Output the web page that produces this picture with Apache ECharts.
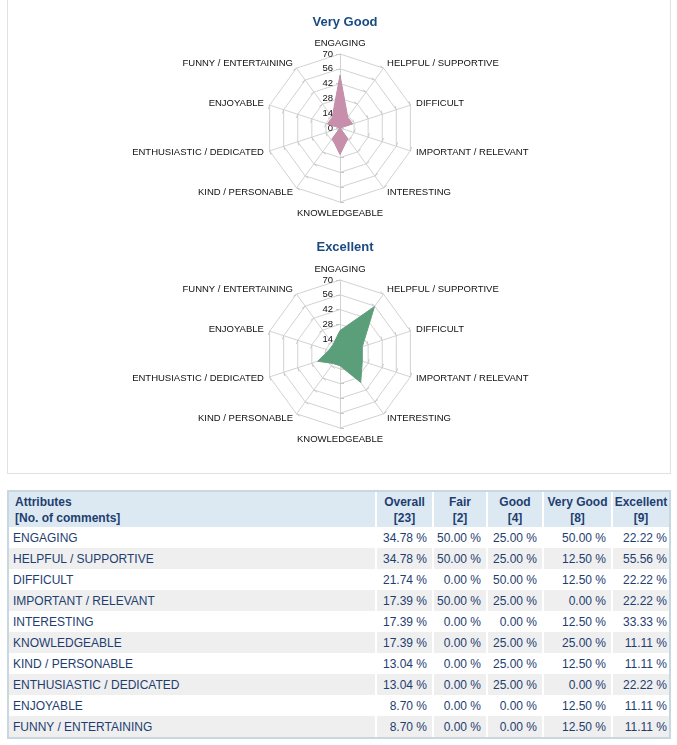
<!DOCTYPE html>
<html>
<head>
<meta charset="utf-8">
<script src="https://cdn.jsdelivr.net/npm/echarts@6/dist/echarts.min.js"></script>
<style>
html,body{margin:0;padding:0;background:#fff;width:677px;height:745px;overflow:hidden;font-family:"Liberation Sans",Arial,sans-serif;}
#panel{position:absolute;left:7px;top:-2px;width:664px;height:476px;border:1px solid #e2e2e2;box-sizing:border-box;}
#chart{position:absolute;left:0;top:0;width:677px;height:476px;}
#tblwrap{position:absolute;left:7px;top:490px;width:664px;border:2px solid #c9d7e1;box-sizing:border-box;}
table{border-collapse:separate;border-spacing:0;width:660px;table-layout:fixed;color:#1e3e70;font-size:12px;font-family:"Liberation Sans",Arial,sans-serif;}
th{background:#dde9f2;font-weight:bold;height:35px;line-height:16px;text-align:center;border-left:2px solid #fff;padding:1px 0 0 0;box-sizing:border-box;}
th.first{text-align:left;padding-left:6px;border-left:none;}
td{height:21px;padding:0 5px 0 0;text-align:right;border-left:2px solid #fff;white-space:nowrap;box-sizing:border-box;}
td.first{text-align:left;padding-left:4px;border-left:none;}
td.last{padding-right:2px;}
tr.alt td{background:#efefef;}
</style>
</head>
<body>
<div id="panel"></div>
<div id="chart"></div>
<div id="tblwrap"><table id="tbl"></table></div>
<script>
// ---- data ----
const categories = ['ENGAGING','HELPFUL / SUPPORTIVE','DIFFICULT','IMPORTANT / RELEVANT','INTERESTING','KNOWLEDGEABLE','KIND / PERSONABLE','ENTHUSIASTIC / DEDICATED','ENJOYABLE','FUNNY / ENTERTAINING'];
const overall   = [34.78, 34.78, 21.74, 17.39, 17.39, 17.39, 13.04, 13.04, 8.70, 8.70];
const fair      = [50.00, 50.00, 0.00, 50.00, 0.00, 0.00, 0.00, 0.00, 0.00, 0.00];
const good      = [25.00, 25.00, 50.00, 25.00, 0.00, 25.00, 25.00, 25.00, 0.00, 0.00];
const veryGood  = [50.00, 12.50, 12.50, 0.00, 12.50, 25.00, 12.50, 0.00, 12.50, 12.50];
const excellent = [22.22, 55.56, 22.22, 22.22, 33.33, 11.11, 11.11, 22.22, 11.11, 11.11];
const columnNames  = ['Overall','Fair','Good','Very Good','Excellent'];
const columnCounts = [23, 2, 4, 8, 9];
const radarTicks = [0, 14, 28, 42, 56, 70];
const radarTitles = ['Very Good', 'Excellent'];

// ---- table ----
const cols = [overall, fair, good, veryGood, excellent];
const widths = [366, 57, 54, 56, 69, 58];
let html = '<colgroup>' + widths.map(w => '<col style="width:' + w + 'px">').join('') + '</colgroup>';
html += '<tr><th class="first">Attributes<br>[No. of comments]</th>' +
  columnNames.map((n, i) => '<th>' + n + '<br>[' + columnCounts[i] + ']</th>').join('') + '</tr>';
categories.forEach((c, r) => {
  html += '<tr' + (r % 2 === 1 ? ' class="alt"' : '') + '><td class="first">' + c + '</td>' +
    cols.map((col, k) => '<td' + (k === cols.length - 1 ? ' class="last"' : '') + '>' + col[r].toFixed(2) + ' %</td>').join('') + '</tr>';
});
document.getElementById('tbl').innerHTML = html;

// ---- radar (clockwise order) ----
const order = [0].concat(categories.map((_, i) => i).slice(1).reverse());
const font = '"Liberation Sans", Arial, sans-serif';
const rMax = radarTicks[radarTicks.length - 1];
function makeRadar(center) {
  return {
    center: center, radius: 74, startAngle: 90, shape: 'polygon',
    splitNumber: radarTicks.length - 1,
    indicator: order.map((idx, i) => {
      const o = { name: categories[idx], min: 0, max: rMax };
      if (i === 0) o.axisLabel = { show: true };
      return o;
    }),
    axisName: { color: '#111', fontSize: 9.5, fontFamily: font },
    nameGap: 6,
    splitLine: { lineStyle: { color: '#d2d2d2', width: 1 } },
    splitArea: { show: false },
    axisLine: { lineStyle: { color: '#d2d2d2', width: 1 } },
    axisTick: { show: true, length: 4, lineStyle: { color: '#c8c8c8' } },
    axisLabel: { show: false, fontSize: 9.5, color: '#111', fontFamily: font, margin: 7 }
  };
}
const chart = echarts.init(document.getElementById('chart'), null, { renderer: 'canvas' });
chart.setOption({
  animation: false,
  title: [
    { text: radarTitles[0], left: 340, top: 11, textAlign: 'center',
      textStyle: { fontSize: 13, fontWeight: 'bold', color: '#1a4b80', fontFamily: font } },
    { text: radarTitles[1], left: 340, top: 236, textAlign: 'center',
      textStyle: { fontSize: 13, fontWeight: 'bold', color: '#1a4b80', fontFamily: font } }
  ],
  radar: [makeRadar([340, 128]), makeRadar([340, 354])],
  series: [
    { type: 'radar', radarIndex: 0, symbol: 'none',
      data: [{ value: order.map(i => veryGood[i]), name: radarTitles[0] }],
      lineStyle: { color: '#b98aa0', width: 1 },
      areaStyle: { color: '#c78fac', opacity: 1 } },
    { type: 'radar', radarIndex: 1, symbol: 'none',
      data: [{ value: order.map(i => excellent[i]), name: radarTitles[1] }],
      lineStyle: { color: '#6f9c84', width: 1 },
      areaStyle: { color: '#5a9f7a', opacity: 1 } }
  ]
});
</script>
</body>
</html>
